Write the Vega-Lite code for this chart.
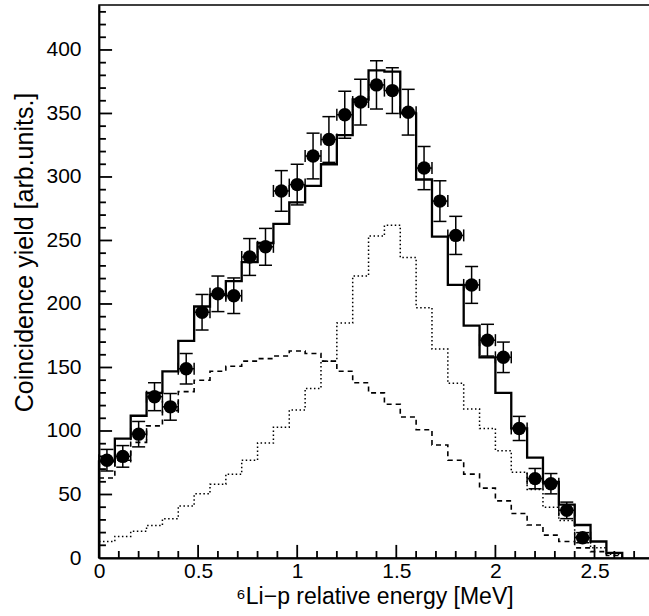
{
  "$schema": "https://vega.github.io/schema/vega-lite/v6.json",
  "width": 551,
  "height": 553,
  "autosize": {"type": "none"},
  "padding": {"left": 99, "top": 5, "right": 0, "bottom": 58},
  "background": "white",
  "config": {
    "view": {"stroke": "black", "strokeWidth": 1.5},
    "axis": {
      "labelFont": "Liberation Sans",
      "titleFont": "Liberation Sans",
      "labelColor": "black",
      "titleColor": "black",
      "domainColor": "black",
      "domainWidth": 1.8,
      "grid": false,
      "titleFontWeight": "normal",
      "labelOverlap": false,
      "labelFlush": false
    }
  },
  "datasets": {
    "sum": [
      {"e": 0, "v": 0}, {"e": 0, "v": 76}, {"e": 0.08, "v": 94}, {"e": 0.16, "v": 112}, {"e": 0.24, "v": 130},
      {"e": 0.32, "v": 147}, {"e": 0.40, "v": 171}, {"e": 0.48, "v": 198}, {"e": 0.56, "v": 207}, {"e": 0.64, "v": 218},
      {"e": 0.72, "v": 233}, {"e": 0.80, "v": 248}, {"e": 0.88, "v": 263}, {"e": 0.96, "v": 280}, {"e": 1.04, "v": 293},
      {"e": 1.12, "v": 310}, {"e": 1.20, "v": 333}, {"e": 1.28, "v": 361}, {"e": 1.36, "v": 384}, {"e": 1.44, "v": 383},
      {"e": 1.52, "v": 350}, {"e": 1.60, "v": 298}, {"e": 1.68, "v": 253}, {"e": 1.76, "v": 215}, {"e": 1.84, "v": 183},
      {"e": 1.92, "v": 158}, {"e": 2.00, "v": 130}, {"e": 2.08, "v": 102}, {"e": 2.16, "v": 79}, {"e": 2.24, "v": 60},
      {"e": 2.32, "v": 42}, {"e": 2.40, "v": 26}, {"e": 2.48, "v": 13}, {"e": 2.56, "v": 4}, {"e": 2.64, "v": 0}
    ],
    "bg": [
      {"e": 0, "v": 63}, {"e": 0.08, "v": 77}, {"e": 0.16, "v": 91}, {"e": 0.24, "v": 104},
      {"e": 0.32, "v": 116}, {"e": 0.40, "v": 131}, {"e": 0.48, "v": 140}, {"e": 0.56, "v": 147}, {"e": 0.64, "v": 151},
      {"e": 0.72, "v": 155}, {"e": 0.80, "v": 157}, {"e": 0.88, "v": 159}, {"e": 0.96, "v": 163}, {"e": 1.04, "v": 161},
      {"e": 1.12, "v": 155}, {"e": 1.20, "v": 147}, {"e": 1.28, "v": 138}, {"e": 1.36, "v": 130}, {"e": 1.44, "v": 121},
      {"e": 1.52, "v": 111}, {"e": 1.60, "v": 101}, {"e": 1.68, "v": 89}, {"e": 1.76, "v": 77}, {"e": 1.84, "v": 66},
      {"e": 1.92, "v": 55}, {"e": 2.00, "v": 45}, {"e": 2.08, "v": 35}, {"e": 2.16, "v": 26}, {"e": 2.24, "v": 18},
      {"e": 2.32, "v": 13}, {"e": 2.40, "v": 8}, {"e": 2.48, "v": 5}, {"e": 2.56, "v": 2}, {"e": 2.64, "v": 0}
    ],
    "res": [
      {"e": 0, "v": 13}, {"e": 0.08, "v": 17}, {"e": 0.16, "v": 21}, {"e": 0.24, "v": 25.5},
      {"e": 0.32, "v": 31}, {"e": 0.40, "v": 41}, {"e": 0.48, "v": 50.5}, {"e": 0.56, "v": 58}, {"e": 0.64, "v": 66},
      {"e": 0.72, "v": 77}, {"e": 0.80, "v": 90.5}, {"e": 0.88, "v": 103}, {"e": 0.96, "v": 116.5}, {"e": 1.04, "v": 133.5},
      {"e": 1.12, "v": 155}, {"e": 1.20, "v": 185}, {"e": 1.28, "v": 222}, {"e": 1.36, "v": 253.5}, {"e": 1.44, "v": 262},
      {"e": 1.52, "v": 236.5}, {"e": 1.60, "v": 197}, {"e": 1.68, "v": 164.5}, {"e": 1.76, "v": 137.5}, {"e": 1.84, "v": 117.3},
      {"e": 1.92, "v": 102}, {"e": 2.00, "v": 84.5}, {"e": 2.08, "v": 67.5}, {"e": 2.16, "v": 54}, {"e": 2.24, "v": 40},
      {"e": 2.32, "v": 29.5}, {"e": 2.40, "v": 17}, {"e": 2.48, "v": 8}, {"e": 2.56, "v": 3}, {"e": 2.64, "v": 0}
    ],
    "pts": [
      {"x": 0.04, "y": 77, "lo": 68.5, "hi": 85.5, "x0": 0.0, "x1": 0.08},
      {"x": 0.12, "y": 80, "lo": 71.5, "hi": 88.5, "x0": 0.08, "x1": 0.16},
      {"x": 0.20, "y": 97.5, "lo": 87.5, "hi": 107.5, "x0": 0.16, "x1": 0.24},
      {"x": 0.28, "y": 127, "lo": 116, "hi": 138, "x0": 0.24, "x1": 0.32},
      {"x": 0.36, "y": 119, "lo": 108.5, "hi": 129.5, "x0": 0.32, "x1": 0.40},
      {"x": 0.44, "y": 149, "lo": 137, "hi": 161, "x0": 0.40, "x1": 0.48},
      {"x": 0.52, "y": 193.5, "lo": 179.5, "hi": 207.5, "x0": 0.48, "x1": 0.56},
      {"x": 0.60, "y": 208, "lo": 194, "hi": 222, "x0": 0.56, "x1": 0.64},
      {"x": 0.68, "y": 206.5, "lo": 192.5, "hi": 220.5, "x0": 0.64, "x1": 0.72},
      {"x": 0.76, "y": 237, "lo": 222.5, "hi": 251.5, "x0": 0.72, "x1": 0.80},
      {"x": 0.84, "y": 245, "lo": 230.5, "hi": 259.5, "x0": 0.80, "x1": 0.88},
      {"x": 0.92, "y": 289, "lo": 273, "hi": 305, "x0": 0.88, "x1": 0.96},
      {"x": 1.00, "y": 294, "lo": 278, "hi": 310, "x0": 0.96, "x1": 1.04},
      {"x": 1.08, "y": 316.5, "lo": 298.5, "hi": 334.5, "x0": 1.04, "x1": 1.12},
      {"x": 1.16, "y": 329.5, "lo": 311.5, "hi": 347.5, "x0": 1.12, "x1": 1.20},
      {"x": 1.24, "y": 349, "lo": 330.5, "hi": 367.5, "x0": 1.20, "x1": 1.28},
      {"x": 1.32, "y": 359, "lo": 341, "hi": 377, "x0": 1.28, "x1": 1.36},
      {"x": 1.40, "y": 372.5, "lo": 353.5, "hi": 391.5, "x0": 1.36, "x1": 1.44},
      {"x": 1.48, "y": 368, "lo": 350, "hi": 386, "x0": 1.44, "x1": 1.52},
      {"x": 1.56, "y": 351, "lo": 333, "hi": 369, "x0": 1.52, "x1": 1.60},
      {"x": 1.64, "y": 307, "lo": 290, "hi": 324, "x0": 1.60, "x1": 1.68},
      {"x": 1.72, "y": 281, "lo": 265, "hi": 297, "x0": 1.68, "x1": 1.76},
      {"x": 1.80, "y": 254, "lo": 239, "hi": 269, "x0": 1.76, "x1": 1.84},
      {"x": 1.88, "y": 215, "lo": 200.5, "hi": 229.5, "x0": 1.84, "x1": 1.92},
      {"x": 1.96, "y": 171.5, "lo": 159, "hi": 184, "x0": 1.92, "x1": 2.00},
      {"x": 2.04, "y": 158, "lo": 146, "hi": 170, "x0": 2.00, "x1": 2.08},
      {"x": 2.12, "y": 102, "lo": 92.5, "hi": 111.5, "x0": 2.08, "x1": 2.16},
      {"x": 2.20, "y": 62.5, "lo": 54.5, "hi": 70.5, "x0": 2.16, "x1": 2.24},
      {"x": 2.28, "y": 58.5, "lo": 50.5, "hi": 66.5, "x0": 2.24, "x1": 2.32},
      {"x": 2.36, "y": 37.5, "lo": 31, "hi": 44, "x0": 2.32, "x1": 2.40},
      {"x": 2.44, "y": 16, "lo": 12, "hi": 20, "x0": 2.40, "x1": 2.48}
    ],
    "xmaj": [{"t": 0.5}, {"t": 1}, {"t": 1.5}, {"t": 2}, {"t": 2.5}],
    "xmin": [{"t": 0.1}, {"t": 0.2}, {"t": 0.3}, {"t": 0.4}, {"t": 0.6}, {"t": 0.7}, {"t": 0.8}, {"t": 0.9}, {"t": 1.1}, {"t": 1.2}, {"t": 1.3}, {"t": 1.4}, {"t": 1.6}, {"t": 1.7}, {"t": 1.8}, {"t": 1.9}, {"t": 2.1}, {"t": 2.2}, {"t": 2.3}, {"t": 2.4}, {"t": 2.6}, {"t": 2.7}],
    "ymaj": [{"t": 50}, {"t": 100}, {"t": 150}, {"t": 200}, {"t": 250}, {"t": 300}, {"t": 350}, {"t": 400}],
    "ymin": [{"t": 10}, {"t": 20}, {"t": 30}, {"t": 40}, {"t": 60}, {"t": 70}, {"t": 80}, {"t": 90}, {"t": 110}, {"t": 120}, {"t": 130}, {"t": 140}, {"t": 160}, {"t": 170}, {"t": 180}, {"t": 190}, {"t": 210}, {"t": 220}, {"t": 230}, {"t": 240}, {"t": 260}, {"t": 270}, {"t": 280}, {"t": 290}, {"t": 310}, {"t": 320}, {"t": 330}, {"t": 340}, {"t": 360}, {"t": 370}, {"t": 380}, {"t": 390}, {"t": 410}, {"t": 420}, {"t": 430}]
  },
  "layer": [
    {
      "data": {"name": "res"},
      "mark": {"type": "line", "interpolate": "step-after", "color": "black", "strokeWidth": 1.5, "strokeDash": [1.5, 2.5]},
      "encoding": {
        "x": {
          "field": "e", "type": "quantitative",
          "scale": {"domain": [0, 2.78], "nice": false, "zero": false},
          "axis": {
            "orient": "bottom",
            "title": "⁶Li−p relative energy [MeV]",
            "titleFontSize": 23,
            "titleBaseline": "alphabetic",
            "titleY": 45,
            "values": [0, 0.5, 1, 1.5, 2, 2.5],
            "labelExpr": "format(datum.value, '~g')",
            "labelFontSize": 21,
            "labelPadding": 2,
            "ticks": false,
            "tickSize": 0
          }
        },
        "y": {
          "field": "v", "type": "quantitative",
          "scale": {"domain": [0, 435.4], "nice": false, "zero": false},
          "axis": {
            "orient": "left",
            "title": "Coincidence yield [arb.units.]",
            "titleFontSize": 25,
            "titleBaseline": "alphabetic",
            "titleAngle": 270,
            "titleX": -67,
            "titleY": 247,
            "values": [0, 50, 100, 150, 200, 250, 300, 350, 400],
            "labelFontSize": 21,
            "labelPadding": 18,
            "ticks": false,
            "tickSize": 0
          }
        }
      }
    },
    {
      "data": {"name": "bg"},
      "mark": {"type": "line", "interpolate": "step-after", "color": "black", "strokeWidth": 1.6, "strokeDash": [5, 4]},
      "encoding": {
        "x": {"field": "e", "type": "quantitative"},
        "y": {"field": "v", "type": "quantitative"}
      }
    },
    {
      "data": {"name": "sum"},
      "mark": {"type": "line", "interpolate": "step-after", "color": "black", "strokeWidth": 2.3},
      "encoding": {
        "x": {"field": "e", "type": "quantitative"},
        "y": {"field": "v", "type": "quantitative"}
      }
    },
    {
      "data": {"name": "xmaj"},
      "mark": {"type": "rule", "color": "black", "strokeWidth": 1.8},
      "encoding": {
        "x": {"field": "t", "type": "quantitative"},
        "y": {"datum": 0, "type": "quantitative"},
        "y2": {"datum": 10.3}
      }
    },
    {
      "data": {"name": "xmin"},
      "mark": {"type": "rule", "color": "black", "strokeWidth": 1.8},
      "encoding": {
        "x": {"field": "t", "type": "quantitative"},
        "y": {"datum": 0, "type": "quantitative"},
        "y2": {"datum": 5.5}
      }
    },
    {
      "data": {"name": "ymaj"},
      "mark": {"type": "rule", "color": "black", "strokeWidth": 1.8},
      "encoding": {
        "x": {"datum": 0, "type": "quantitative"},
        "x2": {"datum": 0.066},
        "y": {"field": "t", "type": "quantitative"}
      }
    },
    {
      "data": {"name": "ymin"},
      "mark": {"type": "rule", "color": "black", "strokeWidth": 1.8},
      "encoding": {
        "x": {"datum": 0, "type": "quantitative"},
        "x2": {"datum": 0.035},
        "y": {"field": "t", "type": "quantitative"}
      }
    },
    {
      "data": {"name": "pts"},
      "mark": {"type": "rule", "color": "black", "strokeWidth": 1.5},
      "encoding": {
        "x": {"field": "x", "type": "quantitative"},
        "y": {"field": "lo", "type": "quantitative"},
        "y2": {"field": "hi"}
      }
    },
    {
      "data": {"name": "pts"},
      "mark": {"type": "rule", "color": "black", "strokeWidth": 1.5},
      "encoding": {
        "x": {"field": "x0", "type": "quantitative"},
        "x2": {"field": "x1"},
        "y": {"field": "y", "type": "quantitative"}
      }
    },
    {
      "data": {"name": "pts"},
      "mark": {"type": "tick", "orient": "horizontal", "size": 13, "thickness": 1.5, "color": "black", "opacity": 1},
      "encoding": {
        "x": {"field": "x", "type": "quantitative"},
        "y": {"field": "lo", "type": "quantitative"}
      }
    },
    {
      "data": {"name": "pts"},
      "mark": {"type": "tick", "orient": "horizontal", "size": 13, "thickness": 1.5, "color": "black", "opacity": 1},
      "encoding": {
        "x": {"field": "x", "type": "quantitative"},
        "y": {"field": "hi", "type": "quantitative"}
      }
    },
    {
      "data": {"name": "pts"},
      "mark": {"type": "tick", "orient": "vertical", "size": 12, "thickness": 1.5, "color": "black", "opacity": 1},
      "encoding": {
        "x": {"field": "x0", "type": "quantitative"},
        "y": {"field": "y", "type": "quantitative"}
      }
    },
    {
      "data": {"name": "pts"},
      "mark": {"type": "tick", "orient": "vertical", "size": 12, "thickness": 1.5, "color": "black", "opacity": 1},
      "encoding": {
        "x": {"field": "x1", "type": "quantitative"},
        "y": {"field": "y", "type": "quantitative"}
      }
    },
    {
      "data": {"name": "pts"},
      "mark": {"type": "point", "shape": "circle", "filled": true, "size": 180, "color": "black", "opacity": 1},
      "encoding": {
        "x": {"field": "x", "type": "quantitative"},
        "y": {"field": "y", "type": "quantitative"}
      }
    }
  ]
}
